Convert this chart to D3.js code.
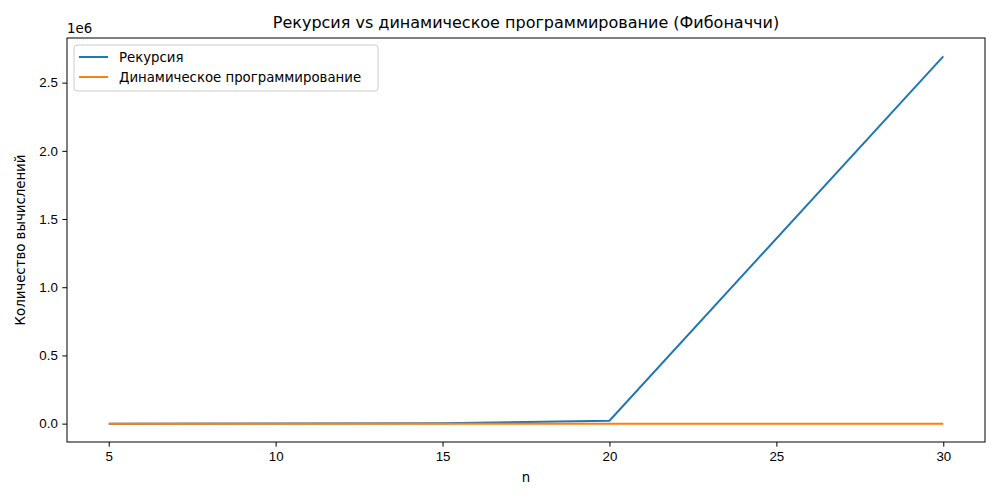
<!DOCTYPE html>
<meta charset="utf-8">
<style>
body { margin: 0; background: #fff; }
svg { font-family: "DejaVu Sans", sans-serif; }
.axis text { font-size: 13.3px; fill: #000; }
.axis path, .axis line { stroke: #000; stroke-width: 1px; }
.line { fill: none; stroke-width: 2px; }
</style>
<svg width="1000" height="500"></svg>
<script src="https://cdn.jsdelivr.net/npm/d3@7"></script>
<script>
// Fibonacci: number of calls, recursion vs DP
var nValues = [5, 10, 15, 20, 30];
var recursion = [15, 177, 1973, 21891, 2692537];
var dynamic = [5, 10, 15, 20, 30];
var xTicks = [5, 10, 15, 20, 25, 30];
var yTicks = [0, 500000, 1000000, 1500000, 2000000, 2500000];

var series = [
  {name: "Рекурсия", values: recursion, color: "#1f77b4"},
  {name: "Динамическое программирование", values: dynamic, color: "#ff7f0e"}
];

var svg = d3.select("svg"),
    margin = {top: 38, right: 15, bottom: 58, left: 67},
    width = +svg.attr("width") - margin.left - margin.right,
    height = +svg.attr("height") - margin.top - margin.bottom,
    g = svg.append("g").attr("transform", "translate(" + margin.left + "," + margin.top + ")");

var xMin = d3.min(nValues), xMax = d3.max(nValues), xPad = (xMax - xMin) * 0.05;
var yMax = d3.max(recursion), yPad = yMax * 0.05;

var x = d3.scaleLinear()
    .domain([xMin - xPad, xMax + xPad])
    .range([0, width]);

var y = d3.scaleLinear()
    .domain([-yPad, yMax + yPad])
    .range([height, 0]);

var line = d3.line()
    .x(function(d, i) { return x(nValues[i]); })
    .y(function(d) { return y(d); });

series.forEach(function(s) {
  g.append("path")
      .datum(s.values)
      .attr("class", "line")
      .attr("stroke", s.color)
      .attr("d", line);
});

g.append("g")
    .attr("class", "axis")
    .attr("transform", "translate(0," + height + ")")
    .call(d3.axisBottom(x).tickValues(xTicks).tickSize(4.7).tickPadding(4.5).tickFormat(d3.format("d")))
    .call(function(a) { a.select(".domain").remove(); });

g.append("g")
    .attr("class", "axis")
    .call(d3.axisLeft(y).tickValues(yTicks).tickSize(4.7).tickPadding(4.5)
      .tickFormat(function(d) { return (d / 1e6).toFixed(1); }))
    .call(function(a) { a.select(".domain").remove(); });

// frame
g.append("rect")
    .attr("width", width)
    .attr("height", height)
    .attr("fill", "none")
    .attr("stroke", "#000")
    .attr("stroke-width", 1);

svg.append("text")
    .attr("x", margin.left)
    .attr("y", 33)
    .attr("font-size", "13.3px")
    .text("1e6");

svg.append("text")
    .attr("x", margin.left + width / 2)
    .attr("y", 28)
    .attr("text-anchor", "middle")
    .attr("font-size", "16px")
    .text("Рекурсия vs динамическое программирование (Фибоначчи)");

svg.append("text")
    .attr("x", margin.left + width / 2)
    .attr("y", 482)
    .attr("text-anchor", "middle")
    .attr("font-size", "13.3px")
    .text("n");

svg.append("text")
    .attr("transform", "translate(25," + (margin.top + height / 2) + ") rotate(-90)")
    .attr("text-anchor", "middle")
    .attr("font-size", "13.3px")
    .text("Количество вычислений");

// legend
var legend = g.append("g").attr("transform", "translate(7,7)");
legend.append("rect")
    .attr("width", 304)
    .attr("height", 46)
    .attr("rx", 3)
    .attr("fill", "#fff")
    .attr("fill-opacity", 0.8)
    .attr("stroke", "#ccc");

series.forEach(function(s, i) {
  var row = legend.append("g").attr("transform", "translate(0," + (12 + i * 20) + ")");
  row.append("line")
      .attr("x1", 5).attr("x2", 34)
      .attr("stroke", s.color)
      .attr("stroke-width", 2);
  row.append("text")
      .attr("x", 45)
      .attr("dy", "0.35em")
      .attr("font-size", "13.3px")
      .text(s.name);
});
</script>
